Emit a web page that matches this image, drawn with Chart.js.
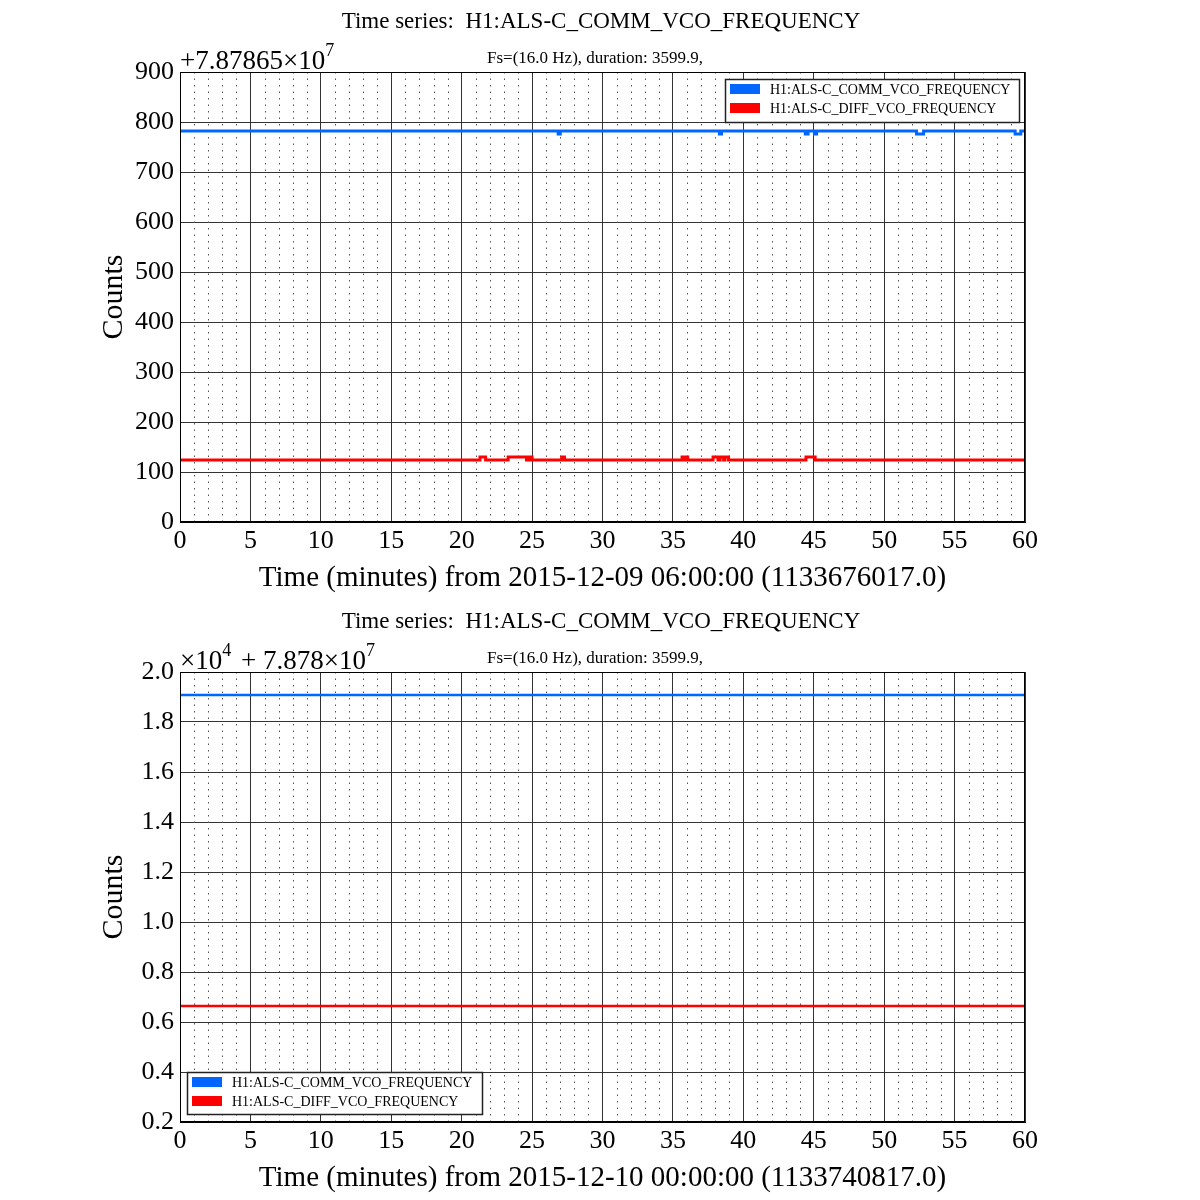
<!DOCTYPE html>
<html>
<head>
<meta charset="utf-8">
<script src="https://cdn.jsdelivr.net/npm/chart.js@4.4.0/dist/chart.umd.min.js"></script>
<style>
  body { margin: 0; background: #fff; }
  .panel { position: absolute; left: 0; width: 1200px; height: 600px; }
</style>
</head>
<body>
<div class="panel" style="top:0"><canvas id="topChart" width="1200" height="600"></canvas></div>
<div class="panel" style="top:600px"><canvas id="bottomChart" width="1200" height="600"></canvas></div>
<script>
// Channel names
const commLabel = 'H1:ALS-C_COMM_VCO_FREQUENCY';
const diffLabel = 'H1:ALS-C_DIFF_VCO_FREQUENCY';

// Top panel (2015-12-09 06:00), values relative to +7.87865e7
const topCommTimes  = [0, 26.85, 27.0, 38.3, 38.45, 44.4, 44.6, 45.05, 45.2, 52.3, 52.8, 59.3, 59.7, 60];
const topCommValues = [782, 776, 782, 776, 782, 776, 782, 776, 782, 776, 782, 776, 782, 782];
const topDiffTimes  = [0, 21.3, 21.7, 23.3, 24.6, 24.8, 25.0, 27.1, 27.3, 35.65, 35.75, 35.95, 36.05,
                       37.85, 38.2, 38.35, 38.6, 38.7, 38.95, 44.45, 45.1, 60];
const topDiffValues = [124, 130, 124, 130, 124, 130, 124, 130, 124, 130, 124, 130, 124,
                       130, 124, 130, 124, 130, 124, 130, 124, 124];

// Bottom panel (2015-12-10 00:00), values in units of 1e4, relative to +7.878e7
const bottomCommTimes  = [0, 60];
const bottomCommValues = [1.908, 1.908];
const bottomDiffTimes  = [0, 60];
const bottomDiffValues = [0.664, 0.664];

const serif = "'Liberation Serif', 'DejaVu Serif', serif";
const blue = '#0066ff';
const red = '#ff0000';

function series(times, values) {
    return times.map((t, i) => ({ x: t, y: values[i] }));
}

// draws title, offset text, dotted minor grid, legend and frame
const decor = {
    id: 'decor',
    beforeDatasetsDraw(chart) {
        const ctx = chart.ctx;
        const xs = chart.scales.x;
        const area = chart.chartArea;
        ctx.save();
        ctx.strokeStyle = '#555';
        ctx.lineWidth = 1;
        ctx.setLineDash([1.5, 5]);
        for (let m = 1; m < 60; m++) {
            if (m % 5 === 0) continue;
            const px = Math.round(xs.getPixelForValue(m)) + 0.5;
            ctx.beginPath();
            ctx.moveTo(px, area.top);
            ctx.lineTo(px, area.bottom);
            ctx.stroke();
        }
        ctx.restore();
    },
    afterDraw(chart, args, opts) {
        const ctx = chart.ctx;
        const area = chart.chartArea;
        ctx.save();
        ctx.fillStyle = '#000';
        ctx.textBaseline = 'alphabetic';

        // title
        ctx.font = '23px ' + serif;
        ctx.textAlign = 'center';
        ctx.fillText('Time series:  ' + commLabel, 601, 28);

        // Fs text
        ctx.font = '17px ' + serif;
        ctx.textAlign = 'left';
        ctx.fillText('Fs=(16.0 Hz), duration: 3599.9,', 487, 63);

        // offset text pieces: [text, superscript?]
        let x = area.left;
        opts.offset.forEach(([txt, sup]) => {
            ctx.font = (sup ? '18px ' : '27px ') + serif;
            ctx.fillText(txt, x, sup ? 56 : 69);
            x += ctx.measureText(txt).width + (sup ? 3 : 0);
        });

        // frame
        ctx.strokeStyle = '#000';
        ctx.lineWidth = 1;
        ctx.strokeRect(area.left + 0.5, area.top + 0.5, area.right - area.left - 1, area.bottom - area.top - 1);

        // legend
        const lg = opts.legend;
        ctx.fillStyle = '#fff';
        ctx.fillRect(lg.x, lg.y, lg.w, lg.h);
        ctx.strokeStyle = '#222';
        ctx.lineWidth = 1.5;
        ctx.strokeRect(lg.x + 0.5, lg.y + 0.5, lg.w, lg.h);
        ctx.font = '14px ' + serif;
        chart.data.datasets.forEach((ds, i) => {
            const ry = lg.y + 5 + i * 19;
            ctx.fillStyle = ds.borderColor;
            ctx.fillRect(lg.x + 5, ry, 30, 10);
            ctx.fillStyle = '#000';
            ctx.fillText(ds.label, lg.x + 45, ry + 10);
        });
        ctx.restore();
    }
};

function makeChart(id, cfg) {
    return new Chart(document.getElementById(id), {
        type: 'line',
        data: {
            datasets: [
                { label: commLabel, data: series(cfg.commTimes, cfg.commValues), borderColor: blue,
                  backgroundColor: blue, borderWidth: cfg.lineWidth, pointRadius: 0, stepped: true, fill: false },
                { label: diffLabel, data: series(cfg.diffTimes, cfg.diffValues), borderColor: red,
                  backgroundColor: red, borderWidth: cfg.lineWidth, pointRadius: 0, stepped: true, fill: false }
            ]
        },
        options: {
            responsive: false,
            animation: false,
            layout: { padding: { top: 72, right: 175, bottom: 0, left: 0 } },
            plugins: {
                legend: { display: false },
                tooltip: { enabled: false },
                decor: { offset: cfg.offset, legend: cfg.legend }
            },
            scales: {
                x: {
                    type: 'linear', min: 0, max: 60,
                    ticks: { stepSize: 5, padding: 4, color: '#000', font: { family: serif, size: 26 } },
                    grid: { color: '#333', drawTicks: false },
                    border: { display: true, color: '#000' },
                    title: { display: true, text: cfg.xTitle, color: '#000',
                             font: { family: serif, size: 29 }, padding: { top: 0, bottom: 4 } },
                    afterFit(scale) { scale.height = 78; }
                },
                y: {
                    min: cfg.yMin, max: cfg.yMax,
                    ticks: { stepSize: cfg.yStep, padding: 6, color: '#000', font: { family: serif, size: 26 },
                             callback: cfg.yFormat },
                    grid: { color: '#333', drawTicks: false },
                    border: { display: true, color: '#000' },
                    title: { display: true, text: 'Counts', color: '#000',
                             font: { family: serif, size: 30 }, padding: { top: 96, bottom: 0 } },
                    afterFit(scale) { scale.width = 180; }
                }
            }
        },
        plugins: [decor]
    });
}

makeChart('topChart', {
    commTimes: topCommTimes, commValues: topCommValues,
    diffTimes: topDiffTimes, diffValues: topDiffValues,
    yMin: 0, yMax: 900, yStep: 100,
    yFormat: v => String(v),
    lineWidth: 3,
    xTitle: 'Time (minutes) from 2015-12-09 06:00:00 (1133676017.0)',
    offset: [['+7.87865\u00d710', false], ['7', true]],
    legend: { x: 725, y: 79, w: 294, h: 43 }
});

makeChart('bottomChart', {
    commTimes: bottomCommTimes, commValues: bottomCommValues,
    diffTimes: bottomDiffTimes, diffValues: bottomDiffValues,
    yMin: 0.2, yMax: 2.0, yStep: 0.2,
    yFormat: v => v.toFixed(1),
    lineWidth: 2.5,
    xTitle: 'Time (minutes) from 2015-12-10 00:00:00 (1133740817.0)',
    offset: [['\u00d710', false], ['4', true], [' + 7.878\u00d710', false], ['7', true]],
    legend: { x: 187, y: 472, w: 295, h: 42 }
});
</script>
</body>
</html>
